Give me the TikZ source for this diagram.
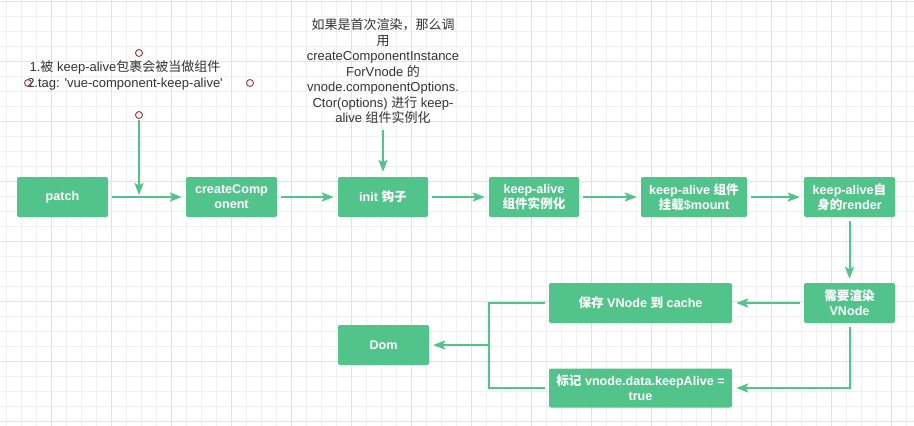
\documentclass[tikz,border=0pt]{standalone}
\usepackage{fontspec}
\setmainfont{Liberation Sans}
\newfontfamily\latfont{Liberation Sans}
\newfontfamily\zhfont{Noto Sans CJK SC}
\newcommand\zht[1]{{\zhfont #1}}
\usetikzlibrary{arrows.meta}
\definecolor{boxgreen}{HTML}{52C38A}
\definecolor{gridminor}{HTML}{F0F0F0}
\definecolor{gridmajor}{HTML}{E2E2E2}
\definecolor{anntext}{HTML}{333333}
\definecolor{handle}{HTML}{9B3A3A}
\begin{document}
\begin{tikzpicture}[x=1pt,y=-1pt,
 box/.style={fill=boxgreen, draw=none, rounded corners=2pt, minimum height=40pt, text=white, font=\latfont\bfseries\fontsize{12.6}{15}\selectfont, align=center, inner sep=0pt},
 conn/.style={draw=boxgreen, line width=2pt, -{Stealth[length=12pt,width=9pt,inset=2.5pt]}, shorten <=4pt, shorten >=4pt},
 wire/.style={draw=boxgreen, line width=2pt},
 ann/.style={text=anntext, font=\latfont\fontsize{13}{15.5}\selectfont, align=center, inner sep=0pt},
 hnd/.style={circle, draw=handle, line width=0.9pt, minimum size=7pt, inner sep=0pt},
 gminor/.style={draw=gridminor, line width=1pt},
 gmajor/.style={draw=gridmajor, line width=1pt}]
\useasboundingbox (0,0) rectangle (914,426);
\fill[white] (0,0) rectangle (914,426);
% grid
\foreach \x in {6,21,...,906} \draw[gminor] (\x,0) -- (\x,426);
\foreach \y in {1,16,...,421} \draw[gminor] (0,\y) -- (914,\y);
\foreach \x in {51,111,...,891} \draw[gmajor] (\x,0) -- (\x,426);
\foreach \y in {1,61,...,421} \draw[gmajor] (0,\y) -- (914,\y);

% boxes
\node[box, minimum width=91pt] (patch) at (62.5,197) {patch};
\node[box, minimum width=91pt] (cc) at (231.5,197) {createComp\\onent};
\node[box, minimum width=90pt] (init) at (383,197) {init \zht{钩子}};
\node[box, minimum width=90pt] (ka1) at (534,197) {keep-alive\\\zht{组件实例化}};
\node[box, minimum width=106pt] (ka2) at (694,197) {keep-alive \zht{组件}\\\zht{挂载}\$mount};
\node[box, minimum width=91pt] (ka3) at (849.5,197) {keep-alive\zht{自}\\\zht{身的}render};
\node[box, minimum width=91pt] (need) at (849.5,303) {\zht{需要渲染}\\VNode};
\node[box, minimum width=183pt] (save) at (640.5,303) {\zht{保存} VNode \zht{到} cache};
\node[box, minimum width=183pt, minimum height=39pt] (mark) at (640.5,388) {\zht{标记} vnode.data.keepAlive =\\true};
\node[box, minimum width=91pt] (dom) at (383.5,345) {Dom};

% annotations
\node[ann] (note1) at (125,75.5) {1.\zht{被} keep-alive\zht{包裹会被当做组件}\\2.tag: 'vue-component-keep-alive'};
\node[ann] (note2) at (383,71.5) {\zht{如果是首次渲染，那么调}\\\zht{用}\\createComponentInstance\\ForVnode \zht{的}\\vnode.componentOptions.\\Ctor(options) \zht{进行} keep-\\alive \zht{组件实例化}};

% handles
\node[hnd] (h1) at (139,53) {};
\node[hnd] (h2) at (250,83) {};
\node[hnd] (h3) at (139,115) {};
\node[hnd] (h4) at (28,83) {};

% connectors
\coordinate (hit) at (139,197);
\draw[conn, shorten <=1pt, shorten >=2pt] (h3) -- (hit);
\coordinate (n2b) at (383,130);
\draw[conn, shorten <=0pt, shorten >=5pt] (n2b) -- (init.north);
\draw[conn] (patch) -- (cc);
\draw[conn] (cc) -- (init);
\draw[conn] (init) -- (ka1);
\draw[conn] (ka1) -- (ka2);
\draw[conn] (ka2) -- (ka3);
\draw[conn] (ka3) -- (need);
\draw[conn] (need) -- (save);
\draw[conn] (need.south) |- (mark.east);
\coordinate (j) at (489,345);
\draw[wire, shorten <=4pt] (save.west) -| (j);
\draw[wire, shorten <=4pt] (mark.west) -| (j);
\draw[conn, shorten <=0pt] (j) -- (dom.east);
\end{tikzpicture}
\end{document}
